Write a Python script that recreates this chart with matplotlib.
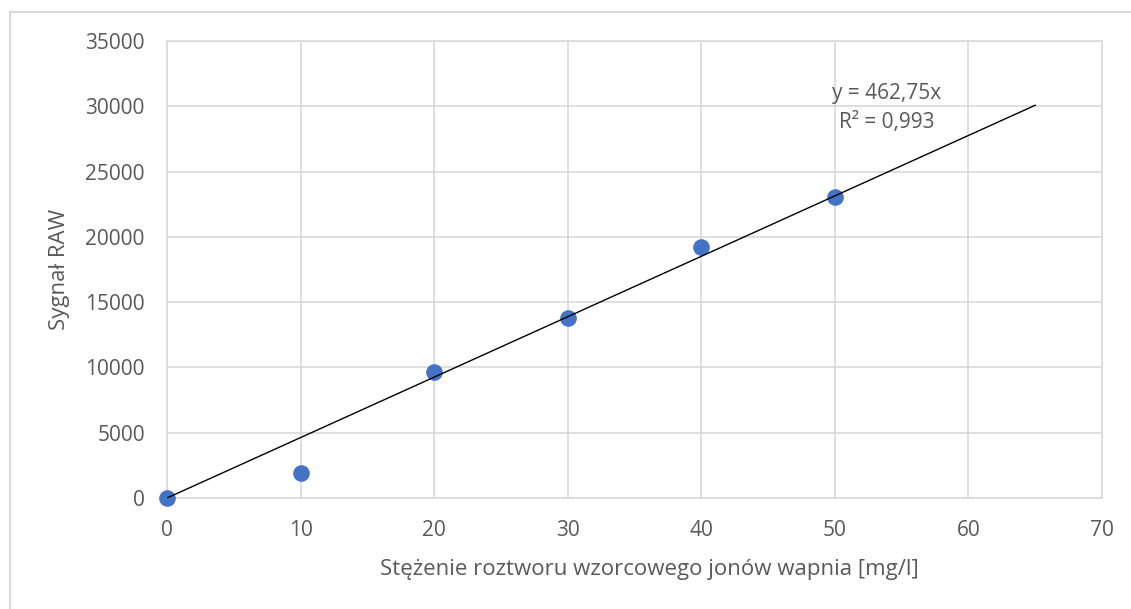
import matplotlib
matplotlib.use("Agg")
import matplotlib.pyplot as plt
from matplotlib.lines import Line2D
import numpy as np

# Calibration data: concentration of calcium standard vs raw signal
concentration = [0, 10, 20, 30, 40, 50]
signal_raw = [0, 1900, 9650, 13780, 19200, 23050]

slope = 462.75
r_squared = 0.993
trend_x = [0, 65]

x_ticks = [0, 10, 20, 30, 40, 50, 60, 70]
y_ticks = [0, 5000, 10000, 15000, 20000, 25000, 30000, 35000]

text_color = "#595959"
grid_color = "#d9d9d9"
point_color = "#4472c4"

plt.rcParams["font.family"] = ["Open Sans", "DejaVu Sans"]

fig = plt.figure(figsize=(11.31, 6.09), dpi=100)
ax = fig.add_axes([167 / 1131, 1 - 498 / 609, 935 / 1131, 457 / 609])

# chart-area frame (left and top edges visible)
fig.add_artist(Line2D([10 / 1131, 10 / 1131], [0, 1 - 12 / 609],
                      transform=fig.transFigure, color=grid_color, lw=1.5))
fig.add_artist(Line2D([10 / 1131, 1], [1 - 12 / 609, 1 - 12 / 609],
                      transform=fig.transFigure, color=grid_color, lw=1.5))

ax.set_xlim(0, 70)
ax.set_ylim(0, 35000)
ax.set_xticks(x_ticks)
ax.set_yticks(y_ticks)
ax.grid(True, color=grid_color, lw=1.2)
ax.set_axisbelow(True)
for s in ax.spines.values():
    s.set_color(grid_color)
    s.set_linewidth(1.2)
ax.tick_params(length=0, labelsize=15, labelcolor=text_color)
ax.tick_params(axis="y", pad=16)
ax.tick_params(axis="x", pad=16)

ax.scatter(concentration, signal_raw, s=120, color=point_color, zorder=3,
           clip_on=False)
tx = np.array(trend_x)
ax.plot(tx, slope * tx, color="black", lw=1.0, zorder=4)

eq = f"y = {slope:.2f}x".replace(".", ",")
r2 = f"R² = {r_squared:.3f}".replace(".", ",")
ax.text(53.9, 30990, eq, ha="center", va="center", fontsize=15, color=text_color)
ax.text(53.9, 28720, r2, ha="center", va="center", fontsize=15, color=text_color)

ax.set_xlabel("Stężenie roztworu wzorcowego jonów wapnia [mg/l]",
              fontsize=16, color=text_color)
ax.xaxis.set_label_coords((649 - 167) / 935, -(570 - 498) / 457)
ax.xaxis.label.set_va("center")
ax.set_ylabel("Sygnał RAW", fontsize=16, color=text_color)
ax.yaxis.set_label_coords(-(167 - 60) / 935, 0.5)
ax.yaxis.label.set_va("center")

fig.savefig("out.png", dpi=100)
